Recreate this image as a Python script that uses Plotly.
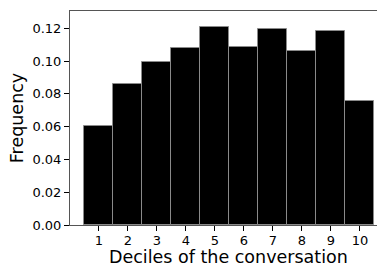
import plotly.graph_objects as go

deciles = [1, 2, 3, 4, 5, 6, 7, 8, 9, 10]
frequency = [0.0604, 0.0857, 0.0993, 0.1078, 0.1206, 0.1084, 0.1196, 0.1060, 0.1181, 0.0756]
ytick_vals = [0.00, 0.02, 0.04, 0.06, 0.08, 0.10, 0.12]
ytick_text = ["0.00", "0.02", "0.04", "0.06", "0.08", "0.10", "0.12"]

fig = go.Figure()
fig.add_trace(go.Bar(
    x=deciles, y=frequency, width=1,
    marker=dict(color="black", line=dict(color="#8a8a8a", width=1)),
))

font = "DejaVu Sans"
fig.update_layout(
    width=377, height=267,
    margin=dict(l=70, r=0, t=11, b=42),
    paper_bgcolor="white", plot_bgcolor="white",
    showlegend=False,
    bargap=0,
    font=dict(family=font, color="black", size=13),
    xaxis=dict(
        range=[0, 10.59], tickmode="array", tickvals=deciles,
        ticktext=[str(d) for d in deciles],
        ticks="outside", ticklen=5, tickcolor="black", tickwidth=1,
        ticklabelstandoff=-2,
        showgrid=False, zeroline=False,
        showline=True, linecolor="#555555", linewidth=1, mirror=True,
        tickfont=dict(size=13, family=font),
        automargin=False,
    ),
    yaxis=dict(
        range=[0, 0.1305], tickmode="array", tickvals=ytick_vals, ticktext=ytick_text,
        ticks="outside", ticklen=5, tickcolor="black", tickwidth=1,
        showgrid=False, zeroline=False,
        showline=True, linecolor="#555555", linewidth=1, mirror=True,
        tickfont=dict(size=13, family=font),
        title=dict(text="Frequency", font=dict(size=17.5, family=font), standoff=4),
        automargin=False,
    ),
    annotations=[dict(
        text="Deciles of the conversation", xref="paper", yref="paper",
        x=0.516, y=0, yshift=-32, xanchor="center", yanchor="middle",
        showarrow=False, font=dict(size=17.5, family=font, color="black"),
    )],
)

fig.write_html(
    "out.html",
    config={"displayModeBar": False},
    post_script="document.body.style.margin='0';document.body.style.overflow='hidden';",
)
